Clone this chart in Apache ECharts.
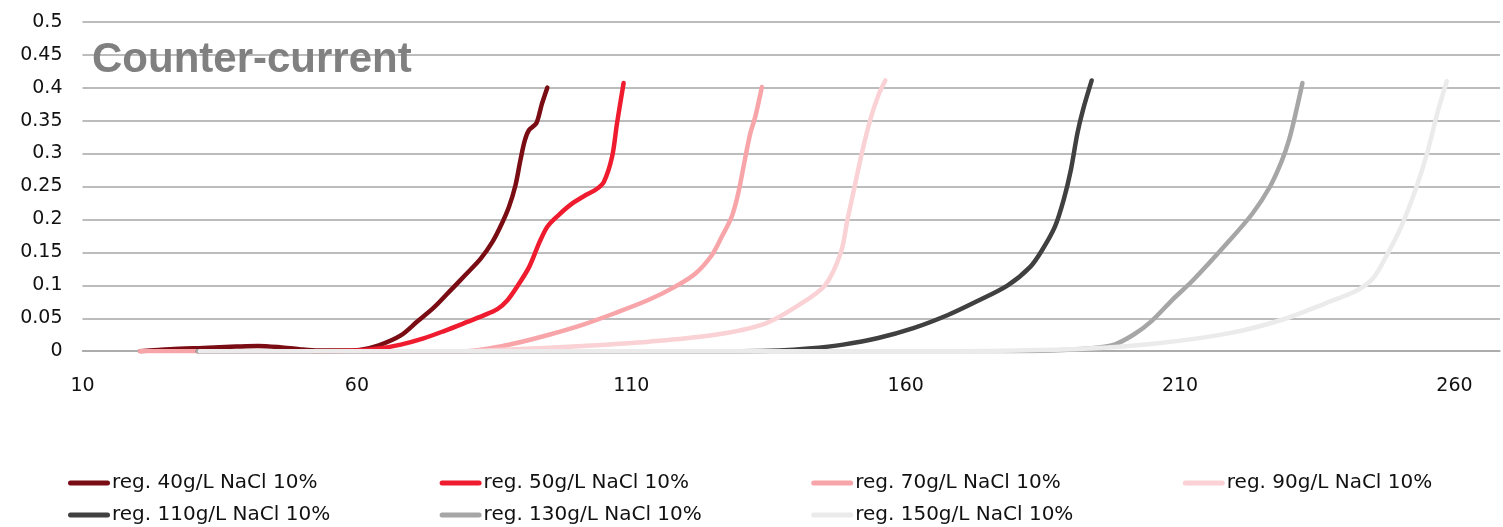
<!DOCTYPE html>
<html>
<head>
<meta charset="utf-8">
<script src="https://cdn.jsdelivr.net/npm/echarts@6/dist/echarts.min.js"></script>
<style>
html,body{margin:0;padding:0;background:#fff;}
#chart{width:1503px;height:527px;}
</style>
</head>
<body>
<div id="chart"></div>
<script>
const seriesNames = ['reg. 40g/L NaCl 10%','reg. 50g/L NaCl 10%','reg. 70g/L NaCl 10%','reg. 90g/L NaCl 10%','reg. 110g/L NaCl 10%','reg. 130g/L NaCl 10%','reg. 150g/L NaCl 10%'];
const seriesColors = ['#7a0c14','#ee1c2e','#f8a5aa','#fad1d4','#404040','#a6a6a6','#ebebeb'];
const xTickLabels = [10,60,110,160,210,260];
const yTickLabels = [0,0.05,0.1,0.15,0.2,0.25,0.3,0.35,0.4,0.45,0.5];

const reg40 = [[20.5,0],[26,0.003],[32,0.005],[38,0.007],[42,0.008],[46,0.006],[49.5,0.003],[53,0.001],[57,0.001],[60.5,0.002],[64,0.009],[68,0.024],[71,0.045],[74,0.066],[76.8,0.09],[79.8,0.116],[82.6,0.141],[84.7,0.166],[86.2,0.19],[87.7,0.219],[88.9,0.252],[89.8,0.29],[90.6,0.32],[91.4,0.336],[92.7,0.346],[93.7,0.375],[94.7,0.4]];
const reg50 = [[52,0],[60,0.001],[64,0.004],[68,0.01],[72,0.019],[76,0.031],[80,0.044],[83,0.054],[85.6,0.064],[87.4,0.077],[89.2,0.098],[91.4,0.128],[93.2,0.164],[94.7,0.189],[96.8,0.207],[99.2,0.224],[101.7,0.237],[103.5,0.245],[105,0.257],[106.5,0.295],[107.4,0.346],[108.6,0.407]];
const reg70 = [[20.5,0],[31.4,0],[60,0],[80,0],[84.1,0.004],[88.9,0.012],[95,0.025],[101.1,0.04],[107.1,0.058],[113.2,0.078],[118,0.098],[121.7,0.118],[124.7,0.146],[126.5,0.174],[128.3,0.204],[129.5,0.24],[130.8,0.295],[131.7,0.331],[132.6,0.356],[133.8,0.401]];
const reg90 = [[31,0],[80,0],[88.9,0.003],[101.1,0.008],[113.2,0.0145],[125.3,0.025],[134.4,0.042],[140.5,0.07],[145.3,0.1],[148.2,0.15],[149.4,0.2],[150.7,0.25],[152,0.3],[153.5,0.35],[155.1,0.39],[156.3,0.411]];
const reg110 = [[31,0],[130,0],[137,0.001],[142.3,0.004],[148.6,0.01],[155,0.02],[161.4,0.035],[167.7,0.055],[172.8,0.075],[178.6,0.1],[182.7,0.128],[184.9,0.154],[187.2,0.189],[188.8,0.23],[190.1,0.275],[191.3,0.331],[192.3,0.366],[193.9,0.411]];
const reg130 = [[31,0],[180,0],[186.8,0.001],[193.3,0.004],[197.7,0.009],[201.5,0.025],[204.7,0.045],[208.6,0.078],[212.4,0.108],[218.8,0.166],[223.2,0.209],[226.4,0.25],[228.5,0.288],[229.9,0.322],[231.2,0.366],[232.3,0.407]];
const reg150 = [[31.4,0],[170,0],[180.5,0.001],[193.3,0.004],[206,0.012],[218.8,0.027],[228.3,0.047],[236.6,0.073],[242.4,0.093],[245.2,0.111],[247.5,0.143],[250.3,0.189],[252.9,0.245],[255,0.3],[256.9,0.362],[258.6,0.41]];

const seriesData = [reg40, reg50, reg70, reg90, reg110, reg130, reg150];

const chart = echarts.init(document.getElementById('chart'), null, {renderer:'canvas'});
const labelFont = 'DejaVu Sans';
const legendCommon = {
  left: 68,
  padding: 0,
  itemWidth: 42,
  itemHeight: 5,
  itemGap: 77.6,
  icon: 'path://M2.5,0 H39.5 A2.5,2.5 0 0 1 39.5,5 H2.5 A2.5,2.5 0 0 1 2.5,0 Z',
  textStyle: {fontFamily: labelFont, fontSize: 20, color: '#111', width: 250, lineHeight: 22, padding: [0,0,0,-3]},
  selectedMode: false
};
const option = {
  animation: false,
  backgroundColor: '#ffffff',
  color: seriesColors,
  title: {
    text: 'Counter-current',
    left: 92,
    top: 39,
    padding: 0,
    textStyle: {fontFamily: 'Liberation Sans', fontWeight: 'bold', fontSize: 42, color: '#808080', lineHeight: 42}
  },
  legend: [
    Object.assign({}, legendCommon, {top: 472, data: seriesNames.slice(0,4)}),
    Object.assign({}, legendCommon, {top: 504, data: seriesNames.slice(4)})
  ],
  grid: {left: 82.5, right: 0, top: 21.8, bottom: 175.8, containLabel: false},
  xAxis: {
    type: 'value',
    min: 10,
    max: 268.3,
    interval: 10,
    axisLine: {show: true, lineStyle: {color: '#a6a6a6', width: 1.5}},
    axisTick: {show: false},
    splitLine: {show: false},
    axisLabel: {
      margin: 25,
      fontFamily: labelFont, fontSize: 19, color: '#111',
      formatter: function (v) { return xTickLabels.indexOf(Math.round(v*1000)/1000) >= 0 ? String(Math.round(v)) : ''; }
    }
  },
  yAxis: {
    type: 'value',
    min: 0,
    max: 0.5,
    interval: 0.05,
    axisLine: {show: false},
    axisTick: {show: false},
    splitLine: {show: true, lineStyle: {color: '#a6a6a6', width: 1.5}},
    axisLabel: {
      margin: 20,
      fontFamily: labelFont, fontSize: 19, color: '#111',
      formatter: function (v) {
        const r = Math.round(v*100)/100;
        const hit = yTickLabels.find(t => Math.abs(t - r) < 1e-9);
        return hit === undefined ? '' : String(hit);
      }
    }
  },
  series: seriesNames.map((name, i) => ({
    name: name,
    type: 'line',
    data: seriesData[i],
    smooth: 0.3,
    symbol: 'none',
    lineStyle: {width: 4.5, color: seriesColors[i], cap: 'round', join: 'round'},
    itemStyle: {color: seriesColors[i]},
    emphasis: {disabled: true}
  }))
};
chart.setOption(option);
</script>
</body>
</html>
